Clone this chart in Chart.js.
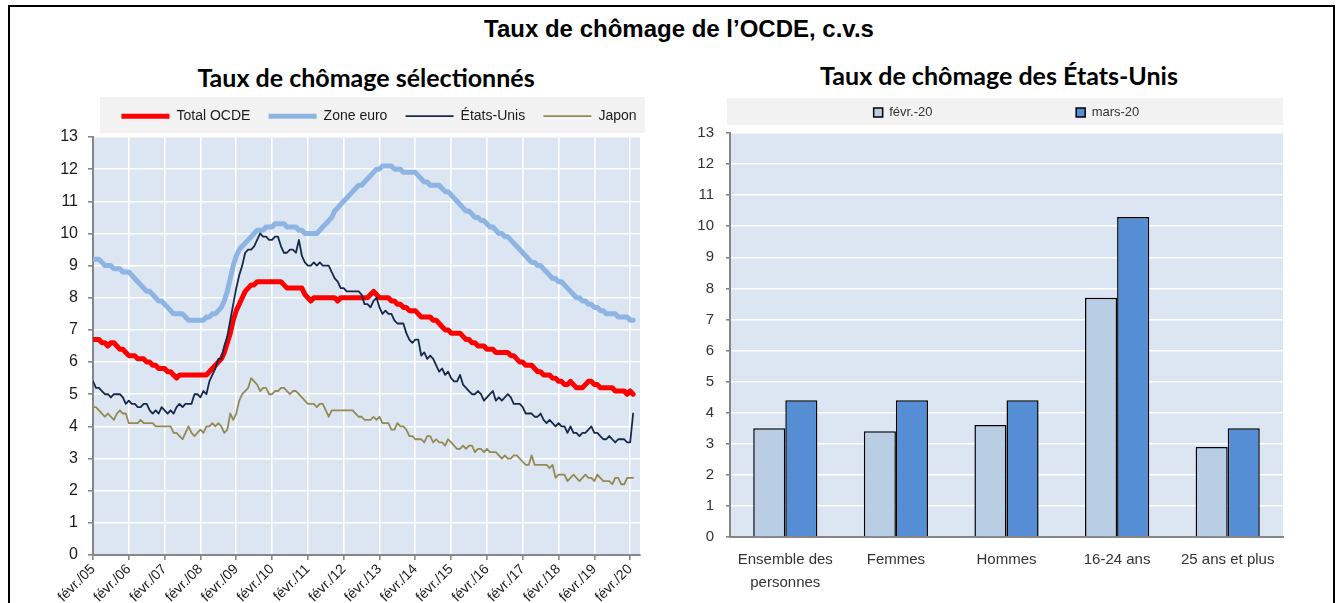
<!DOCTYPE html>
<html>
<head>
<meta charset="utf-8">
<script src="https://cdn.jsdelivr.net/npm/chart.js@4.4.1/dist/chart.umd.min.js"></script>
<style>
  body { margin: 0; width: 1341px; height: 603px; overflow: hidden; background: #fff; position: relative;
         font-family: 'Liberation Sans', Arial, sans-serif; }
  .frame { position: absolute; left: 8px; top: 5px; width: 1323px; height: 660px; border: 2px solid #000; }
  .title { position: absolute; font-weight: bold; white-space: nowrap; transform: translateX(-50%); color: #000; }
  .sub { font-family: Lato, 'Liberation Sans', sans-serif; }
  .lgbox { position: absolute; background: #f2f2f2; }
  canvas { position: absolute; }
</style>
</head>
<body>
<div class="frame"></div>
<div class="title" style="left:679px; top:15px; font-size:24px;">Taux de chômage de l’OCDE, c.v.s</div>
<div class="title sub" style="left:366px; top:62px; font-size:25px;">Taux de chômage sélectionnés</div>
<div class="title sub" style="left:999px; top:60px; font-size:25px;">Taux de chômage des États-Unis</div>
<div class="lgbox" style="left:100px; top:97px; width:545px; height:36px;"></div>
<div class="lgbox" style="left:727px; top:98px; width:556px; height:27px;"></div>
<canvas id="left" width="630" height="513" style="left:20px; top:90px;"></canvas>
<canvas id="right" width="620" height="513" style="left:680px; top:90px;"></canvas>
<script>
// monthly series, févr. 2005 -> mars 2020
const seriesNames = ['Total OCDE', 'Zone euro', 'États-Unis', 'Japon']
const yearLabels = ['05', '06', '07', '08', '09', '10', '11', '12', '13', '14', '15', '16', '17', '18', '19', '20']

const totalOcde = [
  6.7, 6.7, 6.7, 6.6, 6.6, 6.5, 6.6, 6.6, 6.5, 6.4, 6.4,
  6.3, 6.2, 6.2, 6.2, 6.1, 6.1, 6.1, 6.0, 6.0, 5.9, 5.9, 5.8,
  5.8, 5.8, 5.7, 5.7, 5.6, 5.5, 5.6, 5.6, 5.6, 5.6, 5.6, 5.6,
  5.6, 5.6, 5.6, 5.6, 5.7, 5.8, 5.9, 6.0, 6.1, 6.3, 6.6, 6.9,
  7.3, 7.6, 7.8, 8.0, 8.2, 8.3, 8.4, 8.4, 8.5, 8.5, 8.5, 8.5,
  8.5, 8.5, 8.5, 8.5, 8.5, 8.4, 8.3, 8.3, 8.3, 8.3, 8.3, 8.3,
  8.1, 8.0, 7.9, 8.0, 8.0, 8.0, 8.0, 8.0, 8.0, 8.0, 8.0, 7.9,
  8.0, 8.0, 8.0, 8.0, 8.0, 8.0, 8.0, 8.0, 8.0, 8.0, 8.1, 8.2,
  8.1, 8.0, 8.0, 8.0, 8.0, 7.9, 7.9, 7.8, 7.8, 7.7, 7.7, 7.6,
  7.6, 7.6, 7.5, 7.4, 7.4, 7.4, 7.4, 7.3, 7.3, 7.2, 7.1, 7.0,
  7.0, 6.9, 6.9, 6.9, 6.9, 6.8, 6.7, 6.7, 6.6, 6.6, 6.5, 6.5,
  6.5, 6.4, 6.4, 6.4, 6.3, 6.3, 6.3, 6.3, 6.3, 6.2, 6.2, 6.1,
  6.0, 6.0, 5.9, 5.9, 5.9, 5.8, 5.7, 5.7, 5.6, 5.6, 5.6, 5.5,
  5.5, 5.4, 5.4, 5.3, 5.3, 5.4, 5.3, 5.2, 5.2, 5.2, 5.3, 5.4,
  5.4, 5.3, 5.3, 5.2, 5.2, 5.2, 5.2, 5.2, 5.1, 5.1, 5.1, 5.1,
  5.0, 5.1, 5.0,
]

const zoneEuro = [
  9.2, 9.2, 9.2, 9.1, 9.0, 9.0, 9.0, 8.9, 8.9, 8.9, 8.8,
  8.8, 8.8, 8.7, 8.6, 8.5, 8.4, 8.3, 8.2, 8.2, 8.1, 8.0, 7.9,
  7.9, 7.8, 7.7, 7.6, 7.5, 7.5, 7.5, 7.5, 7.4, 7.3, 7.3, 7.3,
  7.3, 7.3, 7.3, 7.4, 7.4, 7.5, 7.5, 7.6, 7.7, 7.9, 8.2, 8.6,
  9.0, 9.3, 9.5, 9.6, 9.7, 9.8, 9.9, 10.0, 10.1, 10.1, 10.1, 10.2,
  10.2, 10.2, 10.3, 10.3, 10.3, 10.3, 10.2, 10.2, 10.2, 10.2, 10.1, 10.1,
  10.0, 10.0, 10.0, 10.0, 10.0, 10.1, 10.2, 10.3, 10.4, 10.5, 10.7, 10.8,
  10.9, 11.0, 11.1, 11.2, 11.3, 11.4, 11.5, 11.5, 11.6, 11.7, 11.8, 11.9,
  12.0, 12.0, 12.1, 12.1, 12.1, 12.1, 12.0, 12.0, 12.0, 11.9, 11.9, 11.9,
  11.9, 11.9, 11.8, 11.7, 11.6, 11.6, 11.5, 11.5, 11.5, 11.5, 11.4, 11.3,
  11.3, 11.2, 11.1, 11.0, 10.9, 10.8, 10.7, 10.7, 10.6, 10.5, 10.5, 10.4,
  10.4, 10.3, 10.2, 10.2, 10.1, 10.0, 10.0, 9.9, 9.9, 9.8, 9.7, 9.6,
  9.5, 9.4, 9.3, 9.2, 9.1, 9.1, 9.0, 9.0, 8.9, 8.8, 8.7, 8.6,
  8.6, 8.5, 8.5, 8.4, 8.3, 8.2, 8.1, 8.0, 8.0, 7.9, 7.9, 7.8,
  7.8, 7.7, 7.7, 7.6, 7.6, 7.5, 7.5, 7.5, 7.5, 7.4, 7.4, 7.4,
  7.4, 7.3, 7.3,
]

const etatsUnis = [
  5.4, 5.2, 5.2, 5.1, 5.0, 5.0, 4.9, 5.0, 5.0, 5.0, 4.9,
  4.7, 4.8, 4.7, 4.7, 4.6, 4.6, 4.7, 4.7, 4.5, 4.4, 4.5, 4.4,
  4.6, 4.5, 4.4, 4.5, 4.4, 4.6, 4.7, 4.6, 4.7, 4.7, 4.7, 5.0,
  5.0, 4.9, 5.1, 5.0, 5.4, 5.6, 5.8, 6.1, 6.1, 6.5, 6.8, 7.3,
  7.8, 8.3, 8.7, 9.0, 9.4, 9.5, 9.5, 9.6, 9.8, 10.0, 9.9, 9.9,
  9.8, 9.8, 9.9, 9.9, 9.6, 9.4, 9.4, 9.5, 9.5, 9.4, 9.8, 9.3,
  9.1, 9.0, 9.0, 9.1, 9.0, 9.1, 9.0, 9.0, 9.0, 8.8, 8.6, 8.5,
  8.3, 8.3, 8.2, 8.2, 8.2, 8.2, 8.2, 8.1, 7.8, 7.8, 7.7, 7.9,
  8.0, 7.7, 7.5, 7.6, 7.5, 7.5, 7.3, 7.2, 7.2, 7.2, 6.9, 6.7,
  6.6, 6.7, 6.7, 6.2, 6.3, 6.1, 6.2, 6.1, 5.9, 5.7, 5.8, 5.6,
  5.7, 5.5, 5.4, 5.4, 5.6, 5.3, 5.2, 5.1, 5.0, 5.0, 5.1, 5.0,
  4.8, 4.9, 5.0, 5.1, 4.8, 4.9, 4.8, 4.9, 5.0, 4.9, 4.7, 4.7,
  4.7, 4.6, 4.4, 4.4, 4.4, 4.3, 4.3, 4.4, 4.2, 4.1, 4.2, 4.1,
  4.0, 4.1, 4.0, 4.0, 3.8, 4.0, 3.8, 3.8, 3.7, 3.8, 3.8, 3.9,
  4.0, 3.8, 3.8, 3.7, 3.6, 3.6, 3.7, 3.6, 3.5, 3.6, 3.6, 3.6,
  3.5, 3.5, 4.4,
]

const japon = [
  4.6, 4.6, 4.5, 4.4, 4.3, 4.4, 4.3, 4.2, 4.4, 4.5, 4.4,
  4.4, 4.1, 4.1, 4.1, 4.1, 4.2, 4.1, 4.1, 4.1, 4.1, 4.0, 4.0,
  4.0, 4.0, 4.0, 4.0, 3.8, 3.8, 3.7, 3.6, 3.8, 4.0, 3.8, 3.7,
  3.8, 3.9, 3.8, 4.0, 4.0, 4.1, 4.0, 4.1, 4.0, 3.8, 3.9, 4.4,
  4.2, 4.4, 4.8, 5.0, 5.1, 5.2, 5.5, 5.4, 5.3, 5.1, 5.2, 5.2,
  5.0, 5.0, 5.1, 5.1, 5.2, 5.2, 5.1, 5.0, 5.1, 5.1, 5.0, 4.9,
  4.8, 4.7, 4.7, 4.7, 4.6, 4.7, 4.7, 4.5, 4.3, 4.5, 4.5, 4.5,
  4.5, 4.5, 4.5, 4.5, 4.5, 4.4, 4.3, 4.3, 4.2, 4.2, 4.2, 4.3,
  4.2, 4.3, 4.1, 4.1, 4.1, 3.9, 3.9, 4.1, 4.0, 4.0, 3.9, 3.7,
  3.7, 3.6, 3.6, 3.6, 3.5, 3.7, 3.7, 3.5, 3.6, 3.5, 3.5, 3.4,
  3.6, 3.5, 3.4, 3.3, 3.3, 3.4, 3.3, 3.4, 3.4, 3.2, 3.3, 3.3,
  3.2, 3.3, 3.2, 3.2, 3.2, 3.1, 3.0, 3.1, 3.0, 3.0, 3.1, 3.1,
  3.0, 2.9, 2.8, 2.8, 3.1, 2.8, 2.8, 2.8, 2.8, 2.8, 2.7, 2.8,
  2.4, 2.5, 2.5, 2.5, 2.3, 2.4, 2.5, 2.4, 2.3, 2.4, 2.5, 2.4,
  2.4, 2.3, 2.5, 2.4, 2.3, 2.3, 2.3, 2.2, 2.4, 2.4, 2.2, 2.2,
  2.4, 2.4, 2.4,
]

// Etats-Unis par groupe
const groups = [['Ensemble des', 'personnes'], 'Femmes', 'Hommes', '16-24 ans', '25 ans et plus']
const barNames = ['févr.-20', 'mars-20']
const fev20 = [3.5, 3.4, 3.6, 7.7, 2.9]
const mars20 = [4.4, 4.4, 4.4, 10.3, 3.5]

const PLOT_BG = '#dce6f2'
const AXIS = '#868686'
const TEXT = '#1a1a1a'
const FONT = "'Liberation Sans', Arial, sans-serif"

Chart.defaults.font.family = FONT
Chart.defaults.color = TEXT

const plotBg = {
  id: 'plotBg',
  beforeDraw(chart) {
    const { ctx, chartArea: a } = chart
    ctx.save()
    ctx.fillStyle = PLOT_BG
    ctx.fillRect(a.left, a.top, a.width, a.height)
    ctx.restore()
  },
}

// fixed legend height, and the legend row moved by dx/dy when drawn
function legendFit(h, dx, dy) {
  return {
    id: 'legendFit',
    beforeInit(chart) {
      const legend = chart.legend
      const fit = legend.fit
      const draw = legend.draw
      legend.fit = function () {
        fit.call(this)
        this.height = h
      }
      legend.draw = function (...args) {
        this.ctx.save()
        this.ctx.translate(dx, dy)
        draw.apply(this, args)
        this.ctx.restore()
      }
    },
  }
}

const toPoints = arr => arr.map((v, i) => ({ x: i, y: v }))

function lineSet(label, data, color, width, order) {
  return {
    label,
    data: toPoints(data),
    borderColor: color,
    backgroundColor: color,
    borderWidth: width,
    borderCapStyle: 'round',
    borderJoinStyle: 'round',
    pointRadius: 0,
    tension: 0,
    order,
  }
}

new Chart(document.getElementById('left'), {
  type: 'line',
  data: {
    datasets: [
      lineSet(seriesNames[0], totalOcde, '#ff0000', 5, 4),
      lineSet(seriesNames[1], zoneEuro, '#8db4e2', 5, 3),
      lineSet(seriesNames[2], etatsUnis, '#17294a', 1.8, 2),
      lineSet(seriesNames[3], japon, '#948a54', 1.8, 1),
    ],
  },
  plugins: [plotBg, legendFit(47, 49, 1)],
  options: {
    responsive: false,
    animation: false,
    devicePixelRatio: 1,
    layout: { padding: { top: 0, right: 10, bottom: 0, left: 0 } },
    plugins: {
      tooltip: { enabled: false },
      legend: {
        labels: {
          usePointStyle: true,
          pointStyle: 'line',
          pointStyleWidth: 48,
          font: { size: 14 },
          color: TEXT,
          padding: 18.2,
          sort: (a, b) => a.datasetIndex - b.datasetIndex,
        },
      },
    },
    scales: {
      x: {
        type: 'linear',
        min: 0,
        max: 183.3,
        afterFit: s => { s.height = 48 },
        ticks: {
          stepSize: 12,
          includeBounds: false,
          autoSkip: false,
          minRotation: 45,
          maxRotation: 45,
          padding: 1,
          font: { size: 14 },
          color: TEXT,
          callback: v => v % 12 === 0 ? 'févr./' + yearLabels[v / 12] : '',
        },
        grid: { color: '#ffffff', lineWidth: 1.6, tickColor: AXIS, tickLength: 5 },
        border: { color: AXIS, width: 2 },
      },
      y: {
        min: 0,
        max: 13,
        afterFit: s => { s.width = 73 },
        ticks: { stepSize: 1, padding: 10, font: { size: 16 }, color: TEXT },
        grid: { color: '#ffffff', lineWidth: 1.6, tickColor: AXIS, tickLength: 5 },
        border: { color: AXIS, width: 2 },
      },
    },
  },
})

new Chart(document.getElementById('right'), {
  type: 'bar',
  data: {
    labels: groups,
    datasets: [
      {
        label: barNames[0] + '\u00a0'.repeat(37),
        data: fev20,
        backgroundColor: '#b9cde5',
        borderColor: '#000',
        borderWidth: 1.5,
        categoryPercentage: 0.58,
        barPercentage: 1,
      },
      {
        label: barNames[1],
        data: mars20,
        backgroundColor: '#558ed5',
        borderColor: '#000',
        borderWidth: 1.5,
        categoryPercentage: 0.58,
        barPercentage: 1,
      },
    ],
  },
  plugins: [plotBg, legendFit(37, 25, 0)],
  options: {
    responsive: false,
    animation: false,
    devicePixelRatio: 1,
    layout: { padding: { top: 6, right: 17, bottom: 0, left: 0 } },
    plugins: {
      tooltip: { enabled: false },
      legend: {
        labels: { boxWidth: 9, boxHeight: 9, font: { size: 13 }, color: '#333', padding: 10 },
      },
    },
    scales: {
      x: {
        afterFit: s => { s.height = 66 },
        ticks: { padding: 3, font: { size: 15, lineHeight: 1.55 }, color: '#333' },
        grid: { display: false },
        border: { color: AXIS, width: 2 },
      },
      y: {
        min: 0,
        max: 13,
        afterFit: s => { s.width = 50 },
        ticks: { stepSize: 1, padding: 12, font: { size: 15 }, color: '#333' },
        grid: { color: '#ffffff', lineWidth: 1.6, tickColor: AXIS, tickLength: 4 },
        border: { color: AXIS, width: 2 },
      },
    },
  },
})
</script>
</body>
</html>
